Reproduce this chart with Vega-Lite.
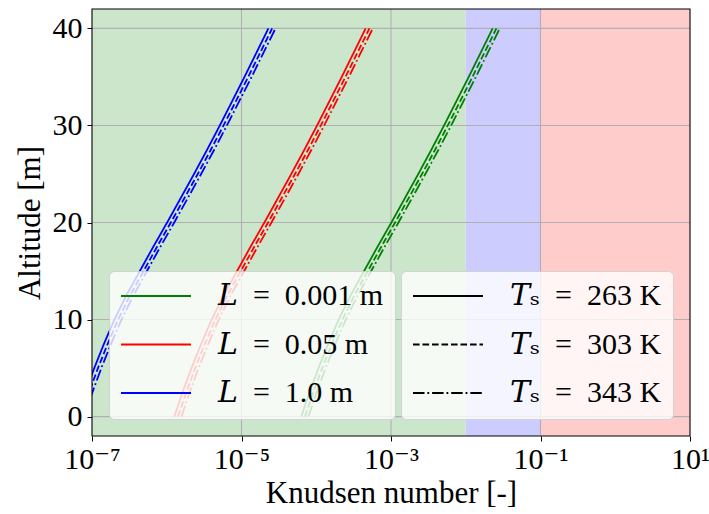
{
  "$schema": "https://vega.github.io/schema/vega-lite/v6.json",
  "width": 598,
  "height": 427,
  "autosize": {"type": "none"},
  "padding": {"left": 92, "top": 9, "right": 19, "bottom": 78},
  "background": "white",
  "config": {
    "font": "Liberation Serif",
    "view": {"stroke": null},
    "axis": {
      "labelFont": "Liberation Serif, DejaVu Serif", "titleFont": "Liberation Serif",
      "labelColor": "black", "titleColor": "black", "tickColor": "black",
      "tickSize": 5, "tickWidth": 1, "domain": false, "grid": false,
      "labelFontSize": 30, "titleFontSize": 31, "titleFontWeight": "normal"
    },
    "legend": {
      "symbolType": "stroke", "symbolSize": 4900, "symbolStrokeWidth": 1.8,
      "clipHeight": 28, "rowPadding": 18.5, "labelOffset": 26, "padding": 11,
      "fillColor": "rgba(255,255,255,0.8)", "strokeColor": "rgba(204,204,204,0.8)",
      "cornerRadius": 5, "labelFontSize": 30, "labelFont": "Liberation Serif, DejaVu Serif",
      "labelColor": "black", "labelLimit": 400
    }
  },
  "layer": [
    {
      "data": {"values": [
        {"lo": 1e-7, "hi": 0.01, "c": "#cce6cc"},
        {"lo": 0.01, "hi": 0.1, "c": "#ccccff"},
        {"lo": 0.1, "hi": 10, "c": "#ffcccc"}
      ]},
      "mark": {"type": "rect", "clip": true},
      "encoding": {
        "x": {"field": "lo", "type": "quantitative", "scale": {"type": "log", "domain": [1e-7, 10], "nice": false},
          "axis": {"values": [1e-7, 1e-5, 1e-3, 0.1, 10], "labelExpr": "datum.value < 1e-6 ? '10⁻⁷' : datum.value < 1e-4 ? '10⁻⁵' : datum.value < 1e-2 ? '10⁻³' : datum.value < 1 ? '10⁻¹' : '10¹'", "labelFlush": false, "labelOverlap": false, "labelPadding": 3, "title": "Knudsen number [-]", "titlePadding": 4}},
        "x2": {"field": "hi"},
        "y": {"datum": -2, "type": "quantitative", "scale": {"domain": [-2, 42], "nice": false, "zero": false},
          "axis": {"values": [0, 10, 20, 30, 40], "format": "d", "labelPadding": 5, "title": "Altitude [m]", "titlePadding": 6}},
        "y2": {"datum": 42},
        "fill": {"field": "c", "type": "nominal", "scale": null}
      }
    },
    {
      "data": {"values": [{"g": 1e-5}, {"g": 1e-3}, {"g": 0.1}]},
      "mark": {"type": "rule", "color": "#b0b0b0", "strokeWidth": 1.1},
      "encoding": {
        "x": {"field": "g", "type": "quantitative", "scale": {"type": "log", "domain": [1e-7, 10], "nice": false},
          "axis": {"values": [1e-7, 1e-5, 1e-3, 0.1, 10], "labelExpr": "datum.value < 1e-6 ? '10⁻⁷' : datum.value < 1e-4 ? '10⁻⁵' : datum.value < 1e-2 ? '10⁻³' : datum.value < 1 ? '10⁻¹' : '10¹'", "labelFlush": false, "labelOverlap": false, "labelPadding": 3, "title": "Knudsen number [-]", "titlePadding": 4}}
      }
    },
    {
      "data": {"values": [{"g": 0}, {"g": 10}, {"g": 20}, {"g": 30}, {"g": 40}]},
      "mark": {"type": "rule", "color": "#b0b0b0", "strokeWidth": 1.1},
      "encoding": {
        "y": {"field": "g", "type": "quantitative", "scale": {"domain": [-2, 42], "nice": false, "zero": false},
          "axis": {"values": [0, 10, 20, 30, 40], "format": "d", "labelPadding": 5, "title": "Altitude [m]", "titlePadding": 6}}
      }
    },
    {
      "data": {"values": [
        {"L":"1.0","Ts":"263","h":0,"kn":6.310e-8},{"L":"1.0","Ts":"263","h":2.5,"kn":8.128e-8},{"L":"1.0","Ts":"263","h":5,"kn":1.072e-7},{"L":"1.0","Ts":"263","h":7.5,"kn":1.445e-7},{"L":"1.0","Ts":"263","h":10,"kn":1.995e-7},{"L":"1.0","Ts":"263","h":12.5,"kn":2.884e-7},{"L":"1.0","Ts":"263","h":15,"kn":4.365e-7},{"L":"1.0","Ts":"263","h":17.5,"kn":6.607e-7},{"L":"1.0","Ts":"263","h":20,"kn":1.012e-6},{"L":"1.0","Ts":"263","h":22.5,"kn":1.531e-6},{"L":"1.0","Ts":"263","h":25,"kn":2.317e-6},{"L":"1.0","Ts":"263","h":27.5,"kn":3.467e-6},{"L":"1.0","Ts":"263","h":30,"kn":5.129e-6},{"L":"1.0","Ts":"263","h":32.5,"kn":7.499e-6},{"L":"1.0","Ts":"263","h":35,"kn":1.096e-5},{"L":"1.0","Ts":"263","h":37.5,"kn":1.585e-5},{"L":"1.0","Ts":"263","h":40,"kn":2.291e-5},
        {"L":"1.0","Ts":"303","h":0,"kn":7.080e-8},{"L":"1.0","Ts":"303","h":2.5,"kn":9.120e-8},{"L":"1.0","Ts":"303","h":5,"kn":1.202e-7},{"L":"1.0","Ts":"303","h":7.5,"kn":1.622e-7},{"L":"1.0","Ts":"303","h":10,"kn":2.239e-7},{"L":"1.0","Ts":"303","h":12.5,"kn":3.236e-7},{"L":"1.0","Ts":"303","h":15,"kn":4.898e-7},{"L":"1.0","Ts":"303","h":17.5,"kn":7.413e-7},{"L":"1.0","Ts":"303","h":20,"kn":1.135e-6},{"L":"1.0","Ts":"303","h":22.5,"kn":1.718e-6},{"L":"1.0","Ts":"303","h":25,"kn":2.600e-6},{"L":"1.0","Ts":"303","h":27.5,"kn":3.890e-6},{"L":"1.0","Ts":"303","h":30,"kn":5.754e-6},{"L":"1.0","Ts":"303","h":32.5,"kn":8.414e-6},{"L":"1.0","Ts":"303","h":35,"kn":1.230e-5},{"L":"1.0","Ts":"303","h":37.5,"kn":1.778e-5},{"L":"1.0","Ts":"303","h":40,"kn":2.570e-5},
        {"L":"1.0","Ts":"343","h":0,"kn":7.852e-8},{"L":"1.0","Ts":"343","h":2.5,"kn":1.012e-7},{"L":"1.0","Ts":"343","h":5,"kn":1.334e-7},{"L":"1.0","Ts":"343","h":7.5,"kn":1.799e-7},{"L":"1.0","Ts":"343","h":10,"kn":2.483e-7},{"L":"1.0","Ts":"343","h":12.5,"kn":3.589e-7},{"L":"1.0","Ts":"343","h":15,"kn":5.433e-7},{"L":"1.0","Ts":"343","h":17.5,"kn":8.222e-7},{"L":"1.0","Ts":"343","h":20,"kn":1.259e-6},{"L":"1.0","Ts":"343","h":22.5,"kn":1.905e-6},{"L":"1.0","Ts":"343","h":25,"kn":2.884e-6},{"L":"1.0","Ts":"343","h":27.5,"kn":4.315e-6},{"L":"1.0","Ts":"343","h":30,"kn":6.383e-6},{"L":"1.0","Ts":"343","h":32.5,"kn":9.333e-6},{"L":"1.0","Ts":"343","h":35,"kn":1.365e-5},{"L":"1.0","Ts":"343","h":37.5,"kn":1.972e-5},{"L":"1.0","Ts":"343","h":40,"kn":2.851e-5},
        {"L":"0.05","Ts":"263","h":0,"kn":1.262e-6},{"L":"0.05","Ts":"263","h":2.5,"kn":1.626e-6},{"L":"0.05","Ts":"263","h":5,"kn":2.144e-6},{"L":"0.05","Ts":"263","h":7.5,"kn":2.890e-6},{"L":"0.05","Ts":"263","h":10,"kn":3.990e-6},{"L":"0.05","Ts":"263","h":12.5,"kn":5.768e-6},{"L":"0.05","Ts":"263","h":15,"kn":8.730e-6},{"L":"0.05","Ts":"263","h":17.5,"kn":1.321e-5},{"L":"0.05","Ts":"263","h":20,"kn":2.024e-5},{"L":"0.05","Ts":"263","h":22.5,"kn":3.062e-5},{"L":"0.05","Ts":"263","h":25,"kn":4.634e-5},{"L":"0.05","Ts":"263","h":27.5,"kn":6.934e-5},{"L":"0.05","Ts":"263","h":30,"kn":1.026e-4},{"L":"0.05","Ts":"263","h":32.5,"kn":1.500e-4},{"L":"0.05","Ts":"263","h":35,"kn":2.192e-4},{"L":"0.05","Ts":"263","h":37.5,"kn":3.170e-4},{"L":"0.05","Ts":"263","h":40,"kn":4.582e-4},
        {"L":"0.05","Ts":"303","h":0,"kn":1.416e-6},{"L":"0.05","Ts":"303","h":2.5,"kn":1.824e-6},{"L":"0.05","Ts":"303","h":5,"kn":2.404e-6},{"L":"0.05","Ts":"303","h":7.5,"kn":3.244e-6},{"L":"0.05","Ts":"303","h":10,"kn":4.478e-6},{"L":"0.05","Ts":"303","h":12.5,"kn":6.472e-6},{"L":"0.05","Ts":"303","h":15,"kn":9.796e-6},{"L":"0.05","Ts":"303","h":17.5,"kn":1.483e-5},{"L":"0.05","Ts":"303","h":20,"kn":2.270e-5},{"L":"0.05","Ts":"303","h":22.5,"kn":3.436e-5},{"L":"0.05","Ts":"303","h":25,"kn":5.200e-5},{"L":"0.05","Ts":"303","h":27.5,"kn":7.780e-5},{"L":"0.05","Ts":"303","h":30,"kn":1.151e-4},{"L":"0.05","Ts":"303","h":32.5,"kn":1.683e-4},{"L":"0.05","Ts":"303","h":35,"kn":2.460e-4},{"L":"0.05","Ts":"303","h":37.5,"kn":3.556e-4},{"L":"0.05","Ts":"303","h":40,"kn":5.140e-4},
        {"L":"0.05","Ts":"343","h":0,"kn":1.570e-6},{"L":"0.05","Ts":"343","h":2.5,"kn":2.024e-6},{"L":"0.05","Ts":"343","h":5,"kn":2.668e-6},{"L":"0.05","Ts":"343","h":7.5,"kn":3.598e-6},{"L":"0.05","Ts":"343","h":10,"kn":4.966e-6},{"L":"0.05","Ts":"343","h":12.5,"kn":7.178e-6},{"L":"0.05","Ts":"343","h":15,"kn":1.087e-5},{"L":"0.05","Ts":"343","h":17.5,"kn":1.644e-5},{"L":"0.05","Ts":"343","h":20,"kn":2.518e-5},{"L":"0.05","Ts":"343","h":22.5,"kn":3.810e-5},{"L":"0.05","Ts":"343","h":25,"kn":5.768e-5},{"L":"0.05","Ts":"343","h":27.5,"kn":8.630e-5},{"L":"0.05","Ts":"343","h":30,"kn":1.277e-4},{"L":"0.05","Ts":"343","h":32.5,"kn":1.867e-4},{"L":"0.05","Ts":"343","h":35,"kn":2.730e-4},{"L":"0.05","Ts":"343","h":37.5,"kn":3.944e-4},{"L":"0.05","Ts":"343","h":40,"kn":5.702e-4},
        {"L":"0.001","Ts":"263","h":0,"kn":6.310e-5},{"L":"0.001","Ts":"263","h":2.5,"kn":8.128e-5},{"L":"0.001","Ts":"263","h":5,"kn":1.072e-4},{"L":"0.001","Ts":"263","h":7.5,"kn":1.445e-4},{"L":"0.001","Ts":"263","h":10,"kn":1.995e-4},{"L":"0.001","Ts":"263","h":12.5,"kn":2.884e-4},{"L":"0.001","Ts":"263","h":15,"kn":4.365e-4},{"L":"0.001","Ts":"263","h":17.5,"kn":6.607e-4},{"L":"0.001","Ts":"263","h":20,"kn":1.012e-3},{"L":"0.001","Ts":"263","h":22.5,"kn":1.531e-3},{"L":"0.001","Ts":"263","h":25,"kn":2.317e-3},{"L":"0.001","Ts":"263","h":27.5,"kn":3.467e-3},{"L":"0.001","Ts":"263","h":30,"kn":5.129e-3},{"L":"0.001","Ts":"263","h":32.5,"kn":7.499e-3},{"L":"0.001","Ts":"263","h":35,"kn":1.096e-2},{"L":"0.001","Ts":"263","h":37.5,"kn":1.585e-2},{"L":"0.001","Ts":"263","h":40,"kn":2.291e-2},
        {"L":"0.001","Ts":"303","h":0,"kn":7.080e-5},{"L":"0.001","Ts":"303","h":2.5,"kn":9.120e-5},{"L":"0.001","Ts":"303","h":5,"kn":1.202e-4},{"L":"0.001","Ts":"303","h":7.5,"kn":1.622e-4},{"L":"0.001","Ts":"303","h":10,"kn":2.239e-4},{"L":"0.001","Ts":"303","h":12.5,"kn":3.236e-4},{"L":"0.001","Ts":"303","h":15,"kn":4.898e-4},{"L":"0.001","Ts":"303","h":17.5,"kn":7.413e-4},{"L":"0.001","Ts":"303","h":20,"kn":1.135e-3},{"L":"0.001","Ts":"303","h":22.5,"kn":1.718e-3},{"L":"0.001","Ts":"303","h":25,"kn":2.600e-3},{"L":"0.001","Ts":"303","h":27.5,"kn":3.890e-3},{"L":"0.001","Ts":"303","h":30,"kn":5.754e-3},{"L":"0.001","Ts":"303","h":32.5,"kn":8.414e-3},{"L":"0.001","Ts":"303","h":35,"kn":1.230e-2},{"L":"0.001","Ts":"303","h":37.5,"kn":1.778e-2},{"L":"0.001","Ts":"303","h":40,"kn":2.570e-2},
        {"L":"0.001","Ts":"343","h":0,"kn":7.852e-5},{"L":"0.001","Ts":"343","h":2.5,"kn":1.012e-4},{"L":"0.001","Ts":"343","h":5,"kn":1.334e-4},{"L":"0.001","Ts":"343","h":7.5,"kn":1.799e-4},{"L":"0.001","Ts":"343","h":10,"kn":2.483e-4},{"L":"0.001","Ts":"343","h":12.5,"kn":3.589e-4},{"L":"0.001","Ts":"343","h":15,"kn":5.433e-4},{"L":"0.001","Ts":"343","h":17.5,"kn":8.222e-4},{"L":"0.001","Ts":"343","h":20,"kn":1.259e-3},{"L":"0.001","Ts":"343","h":22.5,"kn":1.905e-3},{"L":"0.001","Ts":"343","h":25,"kn":2.884e-3},{"L":"0.001","Ts":"343","h":27.5,"kn":4.315e-3},{"L":"0.001","Ts":"343","h":30,"kn":6.383e-3},{"L":"0.001","Ts":"343","h":32.5,"kn":9.333e-3},{"L":"0.001","Ts":"343","h":35,"kn":1.365e-2},{"L":"0.001","Ts":"343","h":37.5,"kn":1.972e-2},{"L":"0.001","Ts":"343","h":40,"kn":2.851e-2}
      ]},
      "mark": {"type": "line", "strokeWidth": 1.8, "clip": true},
      "encoding": {
        "x": {"field": "kn", "type": "quantitative", "scale": {"type": "log", "domain": [1e-7, 10], "nice": false},
          "axis": {"values": [1e-7, 1e-5, 1e-3, 0.1, 10], "labelExpr": "datum.value < 1e-6 ? '10⁻⁷' : datum.value < 1e-4 ? '10⁻⁵' : datum.value < 1e-2 ? '10⁻³' : datum.value < 1 ? '10⁻¹' : '10¹'", "labelFlush": false, "labelOverlap": false, "labelPadding": 3, "title": "Knudsen number [-]", "titlePadding": 4}},
        "y": {"field": "h", "type": "quantitative", "scale": {"domain": [-2, 42], "nice": false, "zero": false},
          "axis": {"values": [0, 10, 20, 30, 40], "format": "d", "labelPadding": 5, "title": "Altitude [m]", "titlePadding": 6}},
        "color": {
          "field": "L", "type": "nominal",
          "scale": {"domain": ["0.001", "0.05", "1.0"], "range": ["#008000", "#ff0000", "#0000ff"]},
          "legend": {"title": null, "orient": "none", "legendX": 17, "legendY": 262,
            "labelExpr": "'𝐿\u2002=\u2002' + datum.label + ' m'"}
        },
        "strokeDash": {
          "field": "Ts", "type": "nominal",
          "scale": {"domain": ["263", "303", "343"], "range": [[1, 0], [6.6, 2.9], [11.5, 2.9, 1.8, 2.9]]},
          "legend": {"title": null, "orient": "none", "legendX": 309, "legendY": 262, "symbolStrokeColor": "black",
            "labelExpr": "'𝑇ₛ\u2002=\u2002' + datum.label + ' K'"}
        },
        "order": {"field": "h", "type": "quantitative"}
      }
    },
    {
      "data": {"values": [{}]},
      "mark": {"type": "rect", "fill": "transparent", "stroke": "black", "strokeWidth": 1.1},
      "encoding": {
        "x": {"datum": 1e-7, "type": "quantitative", "scale": {"type": "log", "domain": [1e-7, 10], "nice": false},
          "axis": {"values": [1e-7, 1e-5, 1e-3, 0.1, 10], "labelExpr": "datum.value < 1e-6 ? '10⁻⁷' : datum.value < 1e-4 ? '10⁻⁵' : datum.value < 1e-2 ? '10⁻³' : datum.value < 1 ? '10⁻¹' : '10¹'", "labelFlush": false, "labelOverlap": false, "labelPadding": 3, "title": "Knudsen number [-]", "titlePadding": 4}},
        "x2": {"datum": 10},
        "y": {"datum": -2, "type": "quantitative", "scale": {"domain": [-2, 42], "nice": false, "zero": false},
          "axis": {"values": [0, 10, 20, 30, 40], "format": "d", "labelPadding": 5, "title": "Altitude [m]", "titlePadding": 6}},
        "y2": {"datum": 42}
      }
    }
  ]
}
